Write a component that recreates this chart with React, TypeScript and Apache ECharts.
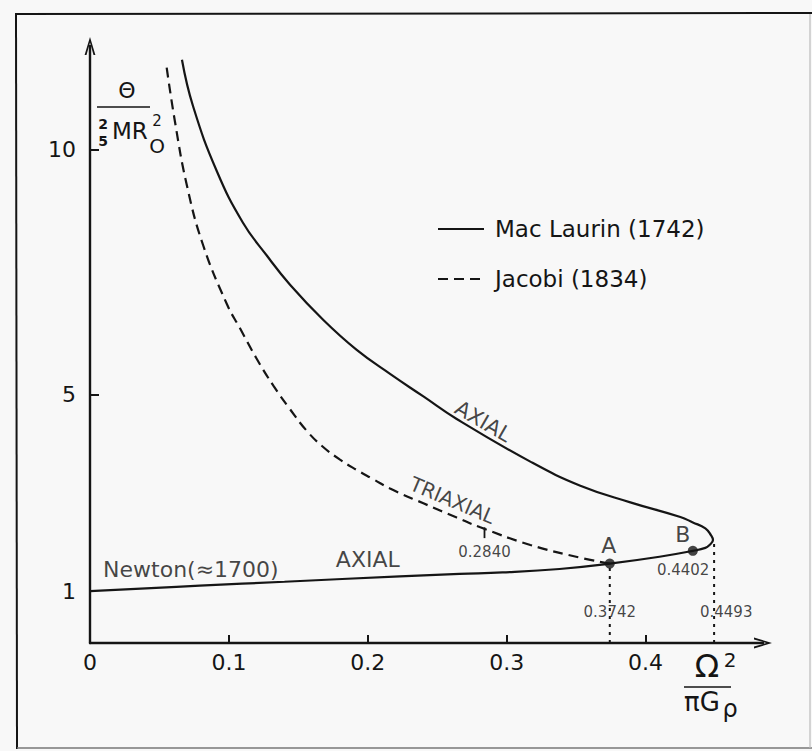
import React, { useEffect, useRef } from "react";
import * as echarts from "echarts";

// ---- data ----
// Mac Laurin sequence: lower (slow) branch from the sphere, turning at 0.4493, then the upper branch
const macLaurinX = [0, 0.079, 0.14, 0.223, 0.266, 0.297, 0.338, 0.3742, 0.41, 0.434, 0.443, 0.446, 0.4485,
  0.447, 0.443, 0.434, 0.425, 0.389, 0.353, 0.317, 0.264, 0.24, 0.216, 0.192, 0.168, 0.144, 0.1274, 0.11, 0.0914, 0.0742, 0.0662];
const macLaurinY = [1.0, 1.11, 1.19, 1.3, 1.35, 1.38, 1.45, 1.56, 1.7, 1.82, 1.88, 1.94, 2.04,
  2.14, 2.28, 2.4, 2.51, 2.81, 3.15, 3.64, 4.51, 4.97, 5.43, 5.92, 6.53, 7.25, 7.84, 8.52, 9.56, 10.89, 11.84];
// Jacobi sequence: from bifurcation point A up to large angular momentum
const jacobiX = [0.3742, 0.353, 0.317, 0.281, 0.264, 0.24, 0.216, 0.204, 0.192, 0.18, 0.167, 0.156, 0.144,
  0.132, 0.12, 0.108, 0.0986, 0.0814, 0.0698, 0.0612, 0.0547];
const jacobiY = [1.56, 1.68, 1.94, 2.3, 2.5, 2.79, 3.09, 3.28, 3.47, 3.68, 3.96, 4.27, 4.71,
  5.19, 5.74, 6.36, 6.85, 8.06, 9.27, 10.57, 11.78];

const pointNames = ["A", "B"];
const pointX = [0.3742, 0.434];
const pointY = [1.56, 1.82];

const guideX = [0.3742, 0.4493];
const guideTopY = [1.56, 2.04];

const bifurcationX = [0.284, 0.284];
const bifurcationY = [2.08, 2.3];

const xLabelValues = [0, 0.1, 0.2, 0.3, 0.4];
const xLabelTexts = ["0", "0.1", "0.2", "0.3", "0.4"];
const xTickValues = [0.1, 0.2, 0.3, 0.4];
const yLabelValues = [1, 5, 10];
const yTickValues = [5, 10];

const annotationTexts = ["Newton(≈1700)", "AXIAL", "AXIAL", "TRIAXIAL", "0.2840", "0.3742", "0.4402", "0.4493"];
const annotationX = [0.0094, 0.2, 0.283, 0.261, 0.284, 0.3742, 0.427, 0.458];
const annotationY = [1.43, 1.64, 4.46, 2.85, 1.8, 0.57, 1.43, 0.57];

const legendNames = ["Mac Laurin (1742)", "Jacobi (1834)"];

// ---- styling ----
const INK = "#151515";
const FONT = "DejaVu Sans";
const Y_MIN = -0.06;
const Y_MAX = 12.12;
const X_MAX = 0.4845;
const CHEVRON = "path://M0,20 L6,0 L12,20 L9.9,20 L6,6.2 L2.1,20 Z";

const annotationStyles: any[] = [
  { align: "left", fontSize: 22, rotate: 0 },
  { align: "center", fontSize: 22, rotate: 0 },
  { align: "center", fontSize: 21, rotate: -30 },
  { align: "center", fontSize: 20, rotate: -23 },
  { align: "center", fontSize: 15, rotate: 0 },
  { align: "center", fontSize: 15, rotate: 0 },
  { align: "center", fontSize: 15, rotate: 0 },
  { align: "center", fontSize: 15, rotate: 0 },
];
const pointLabelOffsets = [
  [-1, -18],
  [-10, -16],
];

function zip(xs: number[], ys: number[]) {
  return xs.map((x, i) => [x, ys[i]]);
}

function buildOption(): any {
  const series: any[] = [
    {
      type: "line",
      name: legendNames[0],
      data: zip(macLaurinX, macLaurinY),
      symbol: "none",
      smooth: 0.45,
      lineStyle: { color: INK, width: 2.2 },
      itemStyle: { color: INK },
      z: 3,
    },
    {
      type: "line",
      name: legendNames[1],
      data: zip(jacobiX, jacobiY),
      symbol: "none",
      smooth: 0.45,
      lineStyle: { color: INK, width: 2.2, type: [10, 6] },
      itemStyle: { color: INK },
      z: 3,
    },
  ];
  guideX.forEach((gx, i) => {
    series.push({
      type: "line",
      name: "guide" + i,
      data: [
        [gx, Y_MIN],
        [gx, guideTopY[i]],
      ],
      symbol: "none",
      lineStyle: { color: INK, width: 2, type: [3, 5] },
      z: 2,
    });
  });
  series.push({
    type: "line",
    name: "bifurcation",
    data: zip(bifurcationX, bifurcationY),
    symbol: "none",
    lineStyle: { color: INK, width: 1.8 },
    z: 2,
  });
  series.push({
    type: "scatter",
    name: "points",
    symbol: "circle",
    symbolSize: 10,
    itemStyle: { color: INK },
    z: 5,
    data: pointNames.map((n, i) => ({
      name: n,
      value: [pointX[i], pointY[i]],
      label: {
        show: true,
        position: "inside",
        offset: pointLabelOffsets[i],
        formatter: n,
        fontSize: 22,
        fontFamily: FONT,
        color: INK,
      },
    })),
  });
  series.push({
    type: "scatter",
    name: "annotations",
    symbolSize: 0,
    itemStyle: { color: "transparent" },
    z: 6,
    data: annotationTexts.map((t, i) => ({
      name: t,
      value: [annotationX[i], annotationY[i]],
      label: {
        show: true,
        position: "inside",
        formatter: t,
        align: annotationStyles[i].align,
        verticalAlign: "middle",
        rotate: annotationStyles[i].rotate,
        fontSize: annotationStyles[i].fontSize,
        fontFamily: FONT,
        color: INK,
      },
    })),
  });

  const txt = (x: number, y: number, text: string, fontSize: number, extra: any = {}) => ({
    type: "text",
    x,
    y,
    style: {
      text,
      fontSize,
      fontFamily: FONT,
      fill: INK,
      align: "center",
      verticalAlign: "middle",
      ...extra,
    },
    z: 10,
  });
  const ln = (x1: number, y1: number, x2: number, y2: number, w: number, color = INK) => ({
    type: "line",
    shape: { x1, y1, x2, y2 },
    style: { stroke: color, lineWidth: w },
    z: 10,
  });

  const graphic: any[] = [
    // scanned frame
    ln(15, 14, 812, 13, 2),
    ln(16, 14, 17, 749, 2),
    ln(17, 748, 812, 748, 1.5, "#777"),
    ln(810, 14, 810, 748, 1.2, "#bbb"),
    // y-axis title: Θ / (2/5 M R0²)
    txt(127, 90, "Θ", 22),
    ln(97, 107, 150, 107, 1.6),
    txt(103, 124, "2", 14, { fontWeight: "bold" }),
    txt(103, 141, "5", 14, { fontWeight: "bold" }),
    txt(112, 131, "MR", 23, { align: "left" }),
    txt(157, 146, "O", 20),
    txt(157, 121, "2", 15),
    // x-axis title: Ω² / (π G ρ)
    txt(707, 666, "Ω", 32),
    txt(730, 660, "2", 20),
    ln(684, 687, 731, 687, 1.6),
    txt(702, 702, "πG", 26),
    txt(730, 709, "ρ", 24),
  ];

  const fmtX = (v: number) => {
    const i = xLabelValues.findIndex((u) => Math.abs(u - v) < 1e-9);
    return i >= 0 ? xLabelTexts[i] : "";
  };

  return {
    animation: false,
    backgroundColor: "#f8f8f8",
    textStyle: { fontFamily: FONT, color: INK },
    grid: {
      left: 90,
      right: 812 - 763,
      top: 46,
      bottom: 751 - 643,
      containLabel: false,
      outerBoundsMode: "none",
    },
    legend: {
      data: legendNames,
      orient: "vertical",
      left: 437,
      top: 215,
      padding: 0,
      itemWidth: 46,
      itemHeight: 14,
      itemGap: 22,
      itemStyle: { opacity: 0, color: "transparent", borderColor: "transparent", borderWidth: 0 },
      lineStyle: { opacity: 1 },
      textStyle: { fontSize: 23, color: INK, fontFamily: FONT, lineHeight: 28, padding: [0, 0, 0, 6] },
      selectedMode: false,
    },
    xAxis: {
      type: "value",
      min: 0,
      max: X_MAX,
      splitLine: { show: false },
      axisLine: {
        show: true,
        onZero: false,
        symbol: ["none", CHEVRON],
        symbolSize: [11, 18],
        lineStyle: { color: INK, width: 2.4 },
      },
      axisTick: {
        show: true,
        inside: true,
        length: 8,
        customValues: xTickValues,
        lineStyle: { color: INK, width: 2 },
      },
      axisLabel: {
        show: true,
        customValues: xLabelValues,
        formatter: fmtX,
        margin: 8,
        fontSize: 22,
        fontFamily: FONT,
        color: INK,
      },
    },
    yAxis: {
      type: "value",
      min: Y_MIN,
      max: Y_MAX,
      splitLine: { show: false },
      axisLine: {
        show: true,
        onZero: false,
        symbol: ["none", CHEVRON],
        symbolSize: [11, 18],
        lineStyle: { color: INK, width: 2.4 },
      },
      axisTick: {
        show: true,
        inside: true,
        length: 9,
        customValues: yTickValues,
        lineStyle: { color: INK, width: 2 },
      },
      axisLabel: {
        show: true,
        customValues: yLabelValues,
        formatter: (v: number) => String(v),
        margin: 14,
        fontSize: 22,
        fontFamily: FONT,
        color: INK,
      },
    },
    series,
    graphic,
  };
}

export default function App() {
  const ref = useRef<HTMLDivElement>(null);
  useEffect(() => {
    if (!ref.current) return;
    const chart = echarts.init(ref.current, null, { renderer: "svg" });
    chart.setOption(buildOption());
    return () => chart.dispose();
  }, []);
  return (
    <div
      ref={ref}
      style={{ position: "fixed", left: 0, top: 0, width: 812, height: 751 }}
    />
  );
}
